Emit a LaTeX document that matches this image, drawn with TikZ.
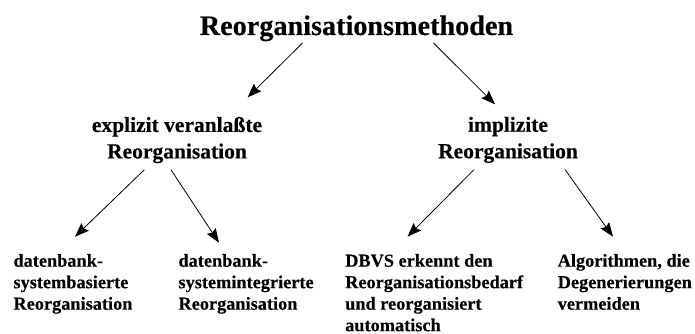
\documentclass[tikz,border=0pt]{standalone}
\usepackage{fontspec}
\setmainfont{Liberation Serif}[BoldFeatures={FakeBold=0.3}]
\usetikzlibrary{arrows.meta, positioning}

\tikzset{
    arr/.style={-{Stealth[length=14pt, width=10.5pt, inset=2pt]}, line width=0.8pt},
    lvltwo/.style={anchor=north, align=center, inner sep=0pt, font=\bfseries\fontsize{21.5}{26.5}\selectfont},
    leaf/.style={anchor=north west, align=left, inner sep=0pt, font=\bfseries\fontsize{18.3}{21.5}\selectfont}
}

\begin{document}
\begin{tikzpicture}[x=1pt, y=-1pt]
    \useasboundingbox (0,0) rectangle (695,334);

    \node[anchor=base, inner sep=0pt, font=\bfseries\fontsize{28.2}{34}\selectfont] (title) at (356.5,35) {Reorganisationsmethoden};

    \node[lvltwo] (expl) at (177,116.6) {explizit veranlaßte\\Reorganisation};
    \node[lvltwo] (impl) at (508,116.6) {implizite\\Reorganisation};

    \node[leaf] (dbsys) at (13.3,253.8) {datenbank-\\systembasierte\\Reorganisation};
    \node[leaf] (dbint) at (178.3,253.8) {datenbank-\\systemintegrierte\\Reorganisation};
    \node[leaf] (auto) at (345,253.8) {DBVS erkennt den\\Reorganisationsbedarf\\und reorganisiert\\automatisch};
    \node[leaf] (algo) at (557.5,253.8) {Algorithmen, die\\Degenerierungen\\vermeiden};

    \draw[arr] ([xshift=-54pt, yshift=-1.6pt]title.south) -- ([xshift=70.7pt, yshift=19.3pt]expl.north);
    \draw[arr] ([xshift=77pt, yshift=-1.6pt]title.south) -- ([xshift=-13pt, yshift=12.3pt]impl.north);

    \draw[arr] ([xshift=-32.7pt, yshift=-6.4pt]expl.south) -- ([xshift=61.7pt, yshift=17.1pt]dbsys.north west);
    \draw[arr] ([xshift=-6pt, yshift=-6.4pt]expl.south) -- ([xshift=40.7pt, yshift=11.1pt]dbint.north west);
    \draw[arr] ([xshift=-34pt, yshift=-6.4pt]impl.south) -- ([xshift=62.5pt, yshift=17.1pt]auto.north west);
    \draw[arr] ([xshift=57pt, yshift=-6.4pt]impl.south) -- ([xshift=55.5pt, yshift=17.1pt]algo.north west);
\end{tikzpicture}
\end{document}
